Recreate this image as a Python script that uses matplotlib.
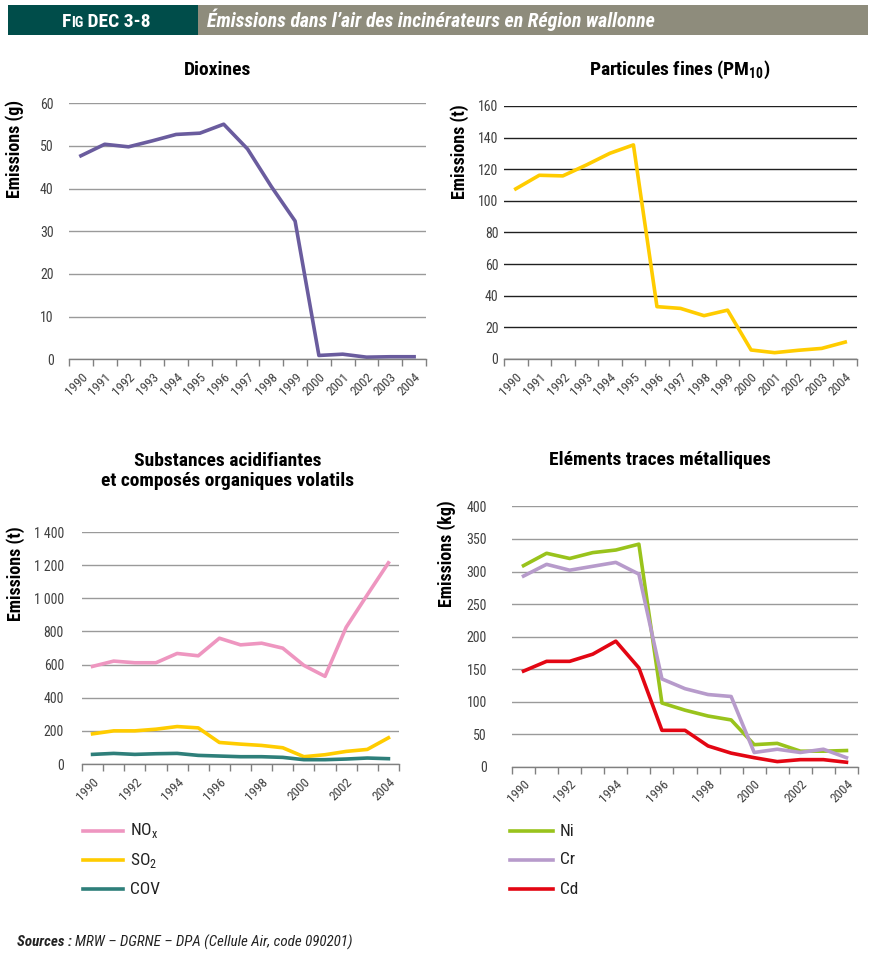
import matplotlib
matplotlib.use("Agg")
import matplotlib.pyplot as plt
from matplotlib import font_manager
from matplotlib.patches import Rectangle
from matplotlib.lines import Line2D
import numpy as np

# Pick the narrowest sans family that is installed
CANDIDATES = ["Liberation Sans Narrow", "Roboto Condensed", "Arial Narrow", "Roboto", "Liberation Sans", "DejaVu Sans"]
installed = {f.name for f in font_manager.fontManager.ttflist}
MAIN = next(c for c in CANDIDATES if c in installed)
plt.rcParams["font.family"] = [MAIN, "DejaVu Sans"]
plt.rcParams["mathtext.fontset"] = "custom"
plt.rcParams["mathtext.rm"] = MAIN
plt.rcParams["mathtext.bf"] = MAIN + ":bold"

years = list(range(1990, 2005))

dioxines = [47.7, 50.4, 49.8, 51.2, 52.7, 53.0, 55.1, 49.3, 40.5, 32.4, 0.9, 1.2, 0.5, 0.6, 0.6]
pm10 = [107.6, 116.2, 115.8, 122.7, 130.1, 135.4, 33.1, 32.0, 27.4, 30.9, 5.7, 4.0, 5.5, 6.7, 10.7]

nox = [589, 621, 611, 611, 667, 653, 759, 719, 729, 699, 595, 529, 825, 1021, 1214]
so2 = [182, 200, 200, 210, 226, 218, 130, 120, 112, 98, 44, 56, 76, 88, 158]
cov = [58, 64, 58, 62, 64, 52, 48, 44, 44, 40, 26, 26, 30, 36, 32]

ni = [309, 328, 320, 329, 333, 342, 98, 87, 78, 72, 34, 36, 24, 24, 25]
cr = [293, 311, 302, 308, 314, 296, 135, 120, 111, 108, 22, 27, 22, 27, 14]
cd = [147, 162, 162, 173, 193, 152, 56, 56, 32, 21, 14, 8, 11, 11, 7]

W, H = 876, 956
fig = plt.figure(figsize=(W / 100, H / 100), dpi=100)
fig.patch.set_facecolor("white")


def box(l, t, r, b):
    return [l / W, 1 - b / H, (r - l) / W, (b - t) / H]


TICK_COLOR = "#404040"


def setup_axis(ax, ymax, ystep, label_every, ylabel, ypad, yfmt=None, grid_color="#9a9a9a"):
    n = len(years)
    ax.set_xlim(-0.5, n - 0.5)
    ax.set_ylim(0, ymax)
    ax.set_yticks(np.arange(0, ymax + 1, ystep))
    if yfmt:
        ax.set_yticklabels([yfmt(v) for v in np.arange(0, ymax + 1, ystep)])
    ax.set_xticks(range(0, n, label_every))
    ax.set_xticklabels([str(years[i]) for i in range(0, n, label_every)],
                       rotation=45, ha="right", va="top", rotation_mode="anchor")
    ax.set_xticks(np.arange(-0.5, n, 1), minor=True)
    ax.tick_params(axis="x", which="major", length=0, pad=8, labelsize=9.5, labelcolor=TICK_COLOR)
    ax.tick_params(axis="x", which="minor", length=5, color="#808080", width=1, direction="out")
    ax.tick_params(axis="y", length=0, pad=ypad, labelsize=10, labelcolor=TICK_COLOR)
    for s in ["top", "right", "left"]:
        ax.spines[s].set_visible(False)
    ax.spines["bottom"].set_color("#808080")
    ax.spines["bottom"].set_linewidth(1.0)
    ax.yaxis.grid(True, color=grid_color, linewidth=1.0)
    ax.set_axisbelow(True)
    ax.set_ylabel(ylabel, fontsize=13, fontweight="bold", color="black")


LW = 2.6
x = np.arange(len(years))
TITLE_SIZE = 14

# Dioxines
ax1 = fig.add_axes(box(69, 103.3, 426, 359.3))
setup_axis(ax1, 60, 10, 1, "Emissions (g)", ypad=11)
ax1.plot(x, dioxines, color="#6A5C9E", lw=LW, solid_joinstyle="round")
ax1.yaxis.set_label_coords(-0.126, 0.82)
fig.text(218 / W, 1 - 70 / H, "Dioxines", ha="center", va="center", fontsize=TITLE_SIZE, fontweight="bold")

# Particules fines
ax2 = fig.add_axes(box(504, 106, 857, 359))
setup_axis(ax2, 160, 20, 1, "Emissions (t)", ypad=4, grid_color="#202020")
ax2.plot(x, pm10, color="#FFCC00", lw=LW, solid_joinstyle="round")
ax2.yaxis.set_label_coords(-0.1, 0.82)
fig.text(680 / W, 1 - 70 / H, r"Particules fines (PM$_\mathbf{10}$)", ha="center", va="center",
         fontsize=TITLE_SIZE, fontweight="bold")


def fmt_thousands(v):
    v = int(v)
    return f"{v:,}".replace(",", " ")


# Substances acidifiantes et COV
ax3 = fig.add_axes(box(82, 532, 399, 764))
setup_axis(ax3, 1400, 200, 2, "Emissions (t)", ypad=13, yfmt=fmt_thousands)
ax3.plot(x, nox, color="#EE96C0", lw=LW, solid_joinstyle="round")
ax3.plot(x, so2, color="#FFCC00", lw=LW, solid_joinstyle="round")
ax3.plot(x, cov, color="#2E7F7A", lw=LW, solid_joinstyle="round")
ax3.yaxis.set_label_coords(-0.18, 0.82)
fig.text(228 / W, 1 - 471 / H, "Substances acidifiantes\net composés organiques volatils",
         ha="center", va="center", fontsize=TITLE_SIZE, fontweight="bold", linespacing=1.15)

# Eléments traces métalliques
ax4 = fig.add_axes(box(512, 506.4, 858, 766.8))
setup_axis(ax4, 400, 50, 2, "Emissions (kg)", ypad=18)
ax4.plot(x, ni, color="#99C31C", lw=LW, solid_joinstyle="round")
ax4.plot(x, cr, color="#B79BCB", lw=LW, solid_joinstyle="round")
ax4.plot(x, cd, color="#E30613", lw=LW, solid_joinstyle="round")
ax4.yaxis.set_label_coords(-0.162, 0.82)
fig.text(660 / W, 1 - 460 / H, "Eléments traces métalliques", ha="center", va="center",
         fontsize=TITLE_SIZE, fontweight="bold")


# Legends: short line samples with labels
def legend_rows(x0, x1, xt, rows):
    for i, (label, color) in enumerate(rows):
        y = 1 - (831 + 29 * i) / H
        fig.add_artist(Line2D([x0 / W, x1 / W], [y, y], color=color, lw=LW, transform=fig.transFigure))
        fig.text(xt / W, y, label, ha="left", va="center", fontsize=12.5, color="#222222")


legend_rows(83, 123, 130, [(r"NO$_\mathregular{x}$", "#EE96C0"),
                           (r"SO$_\mathregular{2}$", "#FFCC00"),
                           ("COV", "#2E7F7A")])
legend_rows(510, 553, 560, [("Ni", "#99C31C"), ("Cr", "#B79BCB"), ("Cd", "#E30613")])

# Header band
fig.patches.append(Rectangle((8 / W, 1 - 35 / H), (868 - 8) / W, 30 / H,
                             transform=fig.transFigure, facecolor="#8E8C7C", edgecolor="none"))
fig.patches.append(Rectangle((8 / W, 1 - 35 / H), (198 - 8) / W, 30 / H,
                             transform=fig.transFigure, facecolor="#004D4A", edgecolor="none"))

renderer = fig.canvas.get_renderer()
hy = 1 - 27 / H
xpos = 62 / W
for txt, size in [("F", 14), ("IG", 10.5), (" DEC 3-8", 14)]:
    t = fig.text(xpos, hy, txt, ha="left", va="baseline", fontsize=size,
                 fontweight="bold", color="white")
    bb = t.get_window_extent(renderer=renderer)
    xpos += bb.width / W
fig.text(207 / W, hy, "Émissions dans l\u2019air des incinérateurs en Région wallonne", ha="left",
         va="baseline", fontsize=14.3, fontweight="bold", style="italic", color="white")

# Sources
t = fig.text(17 / W, 1 - 942 / H, "Sources :", ha="left", va="center", fontsize=10.8,
             fontweight="bold", style="italic", color="#222222")
bb = t.get_window_extent(renderer=renderer)
fig.text((17 + bb.width + 3) / W, 1 - 942 / H, "MRW \u2013 DGRNE \u2013 DPA (Cellule Air, code 090201)",
         ha="left", va="center", fontsize=10.8, style="italic", color="#222222")

fig.savefig("out.png", dpi=100, facecolor="white")
